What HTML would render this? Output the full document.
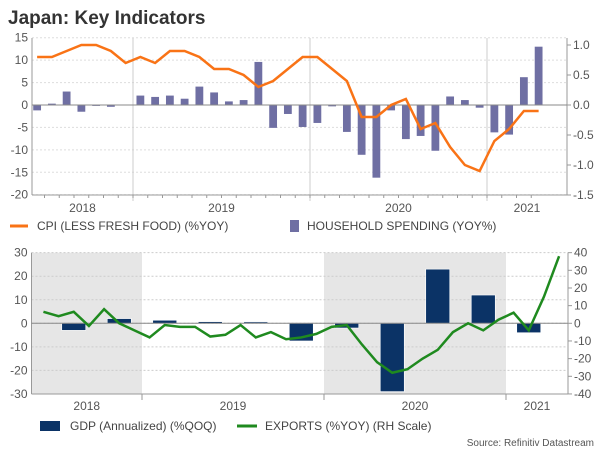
<!DOCTYPE html>
<html><head><meta charset="utf-8"><style>
body{margin:0;width:600px;height:450px;background:#fff;overflow:hidden;font-family:"Liberation Sans",Arial,sans-serif}
svg text{font-family:"Liberation Sans",Arial,sans-serif}
</style></head><body>
<svg id="c" width="600" height="450" viewBox="0 0 600 450">
<text x="8" y="24" font-size="19" font-weight="bold" fill="#333">Japan: Key Indicators</text>
<g id="top"></g><g id="bot"></g>
<g>
<line x1="10" y1="226" x2="28" y2="226" stroke="#f97316" stroke-width="3"/>
<text x="37" y="230" font-size="12" fill="#444">CPI (LESS FRESH FOOD) (%YOY)</text>
<rect x="290" y="220" width="9" height="12" fill="#6f6fa3"/>
<text x="307" y="230" font-size="12" fill="#444">HOUSEHOLD SPENDING (YOY%)</text>
</g>
<g>
<rect x="40" y="421" width="20" height="10" fill="#0b3366"/>
<text x="70" y="430" font-size="12" fill="#444">GDP (Annualized) (%QOQ)</text>
<line x1="237" y1="426" x2="257" y2="426" stroke="#1f8a1f" stroke-width="3"/>
<text x="265" y="430" font-size="12" fill="#444">EXPORTS (%YOY) (RH Scale)</text>
</g>
<text x="594" y="446" font-size="10" fill="#555" text-anchor="end">Source: Refinitiv Datastream</text>
</svg>
<script>
const spending=[-1.2,0.3,3.0,-1.5,-0.2,-0.4,0.1,2.1,1.8,2.1,1.4,4.1,2.8,0.8,1.1,9.6,-5.1,-2.0,-4.9,-4.0,-0.3,-6.0,-11.1,-16.2,-1.2,-7.6,-6.9,-10.2,1.9,1.1,-0.6,-6.1,-6.6,6.2,13.0];
const cpi=[0.8,0.8,0.9,1.0,1.0,0.9,0.7,0.8,0.7,0.9,0.9,0.8,0.6,0.6,0.5,0.3,0.4,0.6,0.8,0.8,0.6,0.4,-0.2,-0.2,0.0,0.1,-0.4,-0.3,-0.7,-1.0,-1.1,-0.6,-0.4,-0.1,-0.1];
const gdp=[-3,2,1.3,0.7,0.6,-7.5,-2,-29,23,12,-4];
const exportsYoy=[6.5,4,6.5,-1.5,8,0,-4,-8,-1,-2,-2,-7.5,-6.5,-1,-8,-5,-9,-8,-6,-2,-1,-12,-22,-28,-26,-20,-15,-5,0,-4,2,6,-4,15,38];
const topLeftTicks=[15,10,5,0,-5,-10,-15,-20];
const topRightTicks=[1.0,0.5,0.0,-0.5,-1.0,-1.5];
const botLeftTicks=[30,20,10,0,-10,-20,-30];
const botRightTicks=[40,30,20,10,0,-10,-20,-30,-40];
const years=["2018","2019","2020","2021"];
const NS="http://www.w3.org/2000/svg";
function mk(p,t,a){const e=document.createElementNS(NS,t);for(const k in a)e.setAttribute(k,a[k]);p.appendChild(e);return e;}
(function(){
const g=document.getElementById('top');
const L=32,R=567,T=38,B=195;
const yl=v=>105+(0-v)*(B-T)/35;
const yr=v=>105-v*60;
const mw=14.75,x0=-44;
const xm=m=>x0+(m+0.5)*mw;
const start=5;
topLeftTicks.forEach(v=>{const y=yl(v);
const gl=mk(g,'line',{x1:L,x2:R,y1:y,y2:y,stroke:'#ddd','stroke-dasharray':'2,2'});

const t=mk(g,'text',{x:L-4,y:y+4,'font-size':12,fill:'#555','text-anchor':'end'});t.textContent=v;
});
topRightTicks.forEach(v=>{const y=yr(v);
const t=mk(g,'text',{x:R+6,y:y+4,'font-size':12,fill:'#555'});t.textContent=v.toFixed(1);

mk(g,'line',{x1:R,x2:R+4,y1:y,y2:y,stroke:'#999'});});
years.forEach((yname,i)=>{const xs=x0+i*12*mw;
if(xs>L&&xs<R){const l=mk(g,'line',{x1:xs,x2:xs,y1:T,y2:B+6,stroke:'#ccc'});}
const a=Math.max(xs,L),b=Math.min(xs+12*mw,R);
const t=mk(g,'text',{x:(a+b)/2,y:B+17,'font-size':12,fill:'#555','text-anchor':'middle'});t.textContent=yname;
});
for(let m=start;m<40;m++){const x=x0+m*mw;if(x>L&&x<R)mk(g,'line',{x1:x,x2:x,y1:B,y2:B+3,stroke:'#999'});}
mk(g,'line',{x1:L,x2:L,y1:T,y2:B,stroke:'#999'});
mk(g,'line',{x1:R,x2:R,y1:T,y2:B,stroke:'#999'});
mk(g,'line',{x1:L,x2:R,y1:B,y2:B,stroke:'#999'});
spending.forEach((v,i)=>{const x=xm(start+i),y0=yl(0),y=yl(v);
const r=mk(g,'rect',{x:x-3.9,y:Math.min(y,y0),width:7.8,height:Math.abs(y-y0),fill:'#6f6fa3'});
});
mk(g,'line',{x1:L,x2:R,y1:yl(0),y2:yl(0),stroke:'#888'});
const pl=mk(g,'polyline',{points:cpi.map((v,i)=>xm(start+i)+','+yr(v)).join(' '),fill:'none',stroke:'#f97316','stroke-width':2.5});

})();
(function(){
const g=document.getElementById('bot');
const L=31.5,R=568,T=252.7,B=394;
const yl=v=>323.3-v*(B-T)/60;
const yr=v=>323.3-v*(B-T)/80;
const yw=182,x0=142-182,mw=yw/12,qw=yw/4;
[[L,142],[324,506]].forEach(s=>{const r=mk(g,'rect',{x:s[0],y:T,width:s[1]-s[0],height:B-T,fill:'#e6e6e6'});
});
botLeftTicks.forEach(v=>{const y=yl(v);
const gl=mk(g,'line',{x1:L,x2:R,y1:y,y2:y,stroke:'#ccc','stroke-dasharray':'2,2'});

const t=mk(g,'text',{x:L-4,y:y+4,'font-size':12,fill:'#555','text-anchor':'end'});t.textContent=v;
});
botRightTicks.forEach(v=>{const y=yr(v);
const t=mk(g,'text',{x:R+6,y:y+4,'font-size':12,fill:'#555'});t.textContent=v;

mk(g,'line',{x1:R,x2:R+4,y1:y,y2:y,stroke:'#999'});});
years.forEach((yname,i)=>{const xs=x0+i*yw;
if(xs>L&&xs<R)mk(g,'line',{x1:xs,x2:xs,y1:B,y2:B+6,stroke:'#999'});
const a=Math.max(xs,L),b=Math.min(xs+yw,R);
const t=mk(g,'text',{x:(a+b)/2,y:B+16,'font-size':12,fill:'#555','text-anchor':'middle'});t.textContent=yname;
});
mk(g,'line',{x1:L,x2:L,y1:T,y2:B,stroke:'#999'});
mk(g,'line',{x1:R,x2:R,y1:T,y2:B,stroke:'#999'});
mk(g,'line',{x1:L,x2:R,y1:B,y2:B,stroke:'#999'});
gdp.forEach((v,i)=>{const x=x0+(2+i+0.5)*qw,y0=yl(0),y=yl(v);
const r=mk(g,'rect',{x:x-12,y:Math.min(y,y0),width:24,height:Math.abs(y-y0),fill:'#0b3366',stroke:'#fff','stroke-width':0.6});
});
mk(g,'line',{x1:L,x2:R,y1:yl(0),y2:yl(0),stroke:'#888'});
const pl=mk(g,'polyline',{points:exportsYoy.map((v,i)=>(x0+(5+i+0.5)*mw)+','+yr(v)).join(' '),fill:'none',stroke:'#1f8a1f','stroke-width':2.5});

})();
</script>
</body></html>
